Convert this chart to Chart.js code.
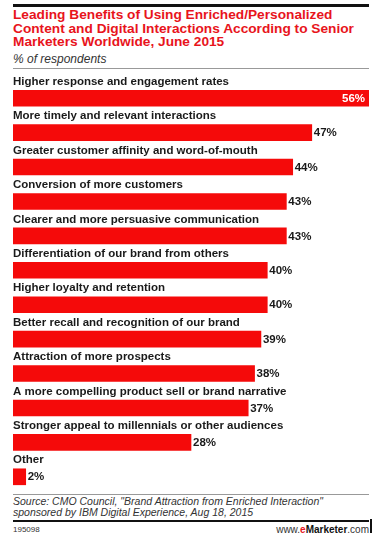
<!DOCTYPE html>
<html>
<head>
<meta charset="utf-8">
<script src="https://cdn.jsdelivr.net/npm/chart.js@4/dist/chart.umd.min.js"></script>
<style>
    html, body { margin: 0; padding: 0; background: #fff; }
    body { width: 385px; height: 542px; position: relative; overflow: hidden; font-family: "Liberation Sans", Arial, sans-serif; }
    .rule { position: absolute; left: 13px; width: 356px; }
    #topRule { top: 4px; height: 3px; background: #111; }
    #subRule { top: 68px; height: 1px; background: #999; }
    #srcRule { top: 494px; height: 1px; background: #999; }
    #footRule { top: 520px; height: 2px; background: #111; }
    #title { position: absolute; left: 13px; top: 8px; color: #e8141c; font-weight: bold; font-size: 13.7px; line-height: 13.5px; white-space: nowrap; }
    #subtitle { position: absolute; left: 13px; top: 52px; color: #333; font-style: italic; font-size: 12px; line-height: 14px; }
    #chartBox { position: absolute; left: 0; top: 70px; width: 385px; height: 424px; }
    #source { position: absolute; left: 13px; top: 496px; color: #333; font-style: italic; font-size: 10.5px; line-height: 10.5px; white-space: nowrap; }
    #chartId { position: absolute; left: 13px; top: 525px; color: #333; font-size: 8px; }
    #brand { position: absolute; right: 16px; top: 524px; color: #333; font-size: 10px; }
    #brand b { color: #111; }
    #brand .e { color: #e8141c; font-weight: bold; }
    #edge { position: absolute; left: 370px; top: 519px; width: 2px; height: 14px; background: #111; }
</style>
</head>
<body>
<div class="rule" id="topRule"></div>
<div id="title">Leading Benefits of Using Enriched/Personalized<br>Content and Digital Interactions According to Senior<br>Marketers Worldwide, June 2015</div>
<div id="subtitle">% of respondents</div>
<div class="rule" id="subRule"></div>
<div id="chartBox"><canvas id="benefitsChart"></canvas></div>
<div class="rule" id="srcRule"></div>
<div id="source">Source: CMO Council, "Brand Attraction from Enriched Interaction"<br>sponsored by IBM Digital Experience, Aug 18, 2015</div>
<div class="rule" id="footRule"></div>
<div id="edge"></div>
<div id="chartId">195098</div>
<div id="brand">www.<span class="e">e</span><b>Marketer</b>.com</div>

<script>
    var categories = [
        'Higher response and engagement rates',
        'More timely and relevant interactions',
        'Greater customer affinity and word-of-mouth',
        'Conversion of more customers',
        'Clearer and more persuasive communication',
        'Differentiation of our brand from others',
        'Higher loyalty and retention',
        'Better recall and recognition of our brand',
        'Attraction of more prospects',
        'A more compelling product sell or brand narrative',
        'Stronger appeal to millennials or other audiences',
        'Other'
    ];
    var values = [56, 47, 44, 43, 43, 40, 40, 39, 38, 37, 28, 2];

    var BAR_RED = '#f50a0a';
    var TEXT = '#1a1a1a';
    var LABEL_FONT = 'bold 11.5px "Liberation Sans", Arial, sans-serif';

    // category names above each bar, value labels at bar end
    var barLabels = {
        id: 'barLabels',
        afterDatasetsDraw: function (chart) {
            var ctx = chart.ctx;
            var area = chart.chartArea;
            var meta = chart.getDatasetMeta(0);
            ctx.save();
            ctx.font = LABEL_FONT;
            ctx.textBaseline = 'middle';
            meta.data.forEach(function (bar, i) {
                var top = bar.y - bar.height / 2;
                ctx.fillStyle = TEXT;
                ctx.textAlign = 'left';
                ctx.fillText(categories[i], area.left, top - 8.5);

                var txt = values[i] + '%';
                var w = ctx.measureText(txt).width;
                if (bar.x + 3 + w > area.right) {
                    ctx.fillStyle = '#fff';
                    ctx.textAlign = 'right';
                    ctx.fillText(txt, bar.x - 4, bar.y + 0.5);
                } else {
                    ctx.fillStyle = TEXT;
                    ctx.textAlign = 'left';
                    ctx.fillText(txt, bar.x + 2, bar.y + 0.5);
                }
            });
            ctx.restore();
        }
    };

    new Chart(document.getElementById('benefitsChart'), {
        type: 'bar',
        data: {
            labels: categories,
            datasets: [{
                data: values,
                backgroundColor: BAR_RED,
                borderWidth: 0,
                barThickness: 16
            }]
        },
        options: {
            indexAxis: 'y',
            responsive: true,
            maintainAspectRatio: false,
            animation: false,
            layout: { padding: { left: 13, right: 16, top: 11, bottom: 0 } },
            plugins: {
                legend: { display: false },
                tooltip: { enabled: false }
            },
            scales: {
                x: { display: false, min: 0, max: 56 },
                y: { display: false }
            }
        },
        plugins: [barLabels]
    });
</script>
</body>
</html>
